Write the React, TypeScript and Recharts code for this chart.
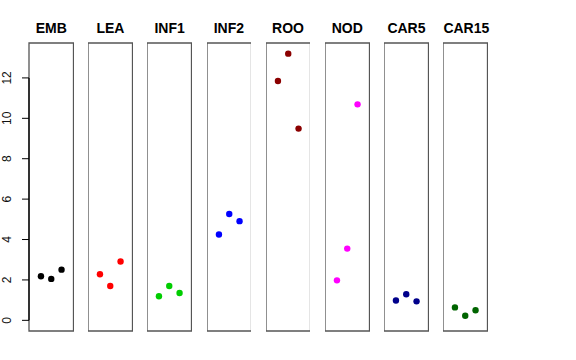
import { ScatterChart, Scatter, XAxis, YAxis, ReferenceArea, ReferenceLine } from 'recharts'

// replicate values per tissue
const panelNames = ['EMB', 'LEA', 'INF1', 'INF2', 'ROO', 'NOD', 'CAR5', 'CAR15']
const panelColors = ['#000000', '#FF0000', '#00CD00', '#0000FF', '#8B0000', '#FF00FF', '#00008B', '#006400']
const replicates = [1, 2, 3]
const embValues = [2.18, 2.05, 2.51]
const leaValues = [2.28, 1.7, 2.91]
const inf1Values = [1.19, 1.7, 1.35]
const inf2Values = [4.25, 5.26, 4.91]
const rooValues = [11.85, 13.2, 9.49]
const nodValues = [1.98, 3.55, 10.69]
const car5Values = [0.98, 1.29, 0.94]
const car15Values = [0.64, 0.23, 0.5]
const yTicks = [0, 2, 4, 6, 8, 10, 12]

const allValues = [embValues, leaValues, inf1Values, inf2Values, rooValues, nodValues, car5Values, car15Values]

// R style 4% padding, ylim = c(0, max)
const yMax = Math.max(...allValues.flat())
const Y_DOMAIN: [number, number] = [-0.04 * yMax, yMax * 1.04]
const X_DOMAIN: [number, number] = [-0.16, 4.16]

const LEFT0 = 29
const STEP = 59.2
const PANEL_W = 44.5
const TOP = 43
const BOTTOM = 29
const AXIS_W = 29
const FONT = '"Liberation Sans", Arial, Helvetica, sans-serif'

function RotTick({ y, payload }: any) {
  return (
    <text
      x={11.5}
      y={y}
      transform={`rotate(-90, 11.5, ${y})`}
      textAnchor="middle"
      fontSize={12}
      fontFamily={FONT}
      fill="#111"
    >
      {payload.value}
    </text>
  )
}

function Dot({ cx, cy, fill }: any) {
  return <circle cx={cx} cy={cy} r={3.2} fill={fill} />
}

function Panel({ index }: { index: number }) {
  const first = index === 0
  const left = LEFT0 + index * STEP
  const data = replicates.map((r, i) => ({ x: r, y: allValues[index][i] }))
  return (
    <div style={{ position: 'absolute', left: first ? 0 : left, top: 0 }}>
      <div
        style={{
          position: 'absolute',
          left: first ? AXIS_W : 0,
          top: 20,
          width: PANEL_W,
          textAlign: 'center',
          fontFamily: FONT,
          fontWeight: 'bold',
          fontSize: 14,
          lineHeight: '16px',
          whiteSpace: 'nowrap',
        }}
      >
        {panelNames[index]}
      </div>
      <ScatterChart
        width={(first ? AXIS_W : 0) + PANEL_W}
        height={360}
        margin={{ top: TOP, bottom: BOTTOM, left: 0, right: 0 }}
      >
        <XAxis type="number" dataKey="x" domain={X_DOMAIN} hide />
        {first ? (
          <YAxis
            type="number"
            dataKey="y"
            domain={Y_DOMAIN}
            ticks={yTicks}
            width={AXIS_W}
            axisLine={false}
            tickSize={7}
            tickLine={{ stroke: '#000' }}
            tick={<RotTick />}
            allowDataOverflow
          />
        ) : (
          <YAxis type="number" dataKey="y" domain={Y_DOMAIN} hide allowDataOverflow />
        )}
        <ReferenceArea
          x1={X_DOMAIN[0]}
          x2={X_DOMAIN[1]}
          y1={Y_DOMAIN[0]}
          y2={Y_DOMAIN[1]}
          fill="none"
          stroke="#555"
          strokeWidth={1.3}
        />
        {first && (
          <ReferenceLine
            segment={[{ x: X_DOMAIN[0], y: 0 }, { x: X_DOMAIN[0], y: 12 }]}
            stroke="#000"
            strokeWidth={1.3}
            ifOverflow="visible"
          />
        )}
        <Scatter
          data={data}
          fill={panelColors[index]}
          shape={<Dot />}
          isAnimationActive={false}
        />
      </ScatterChart>
    </div>
  )
}

export default function App() {
  return (
    <div style={{ position: 'absolute', left: 0, top: 0, width: 576, height: 360, background: '#fff' }}>
      {panelNames.map((_, i) => (
        <Panel key={i} index={i} />
      ))}
    </div>
  )
}
